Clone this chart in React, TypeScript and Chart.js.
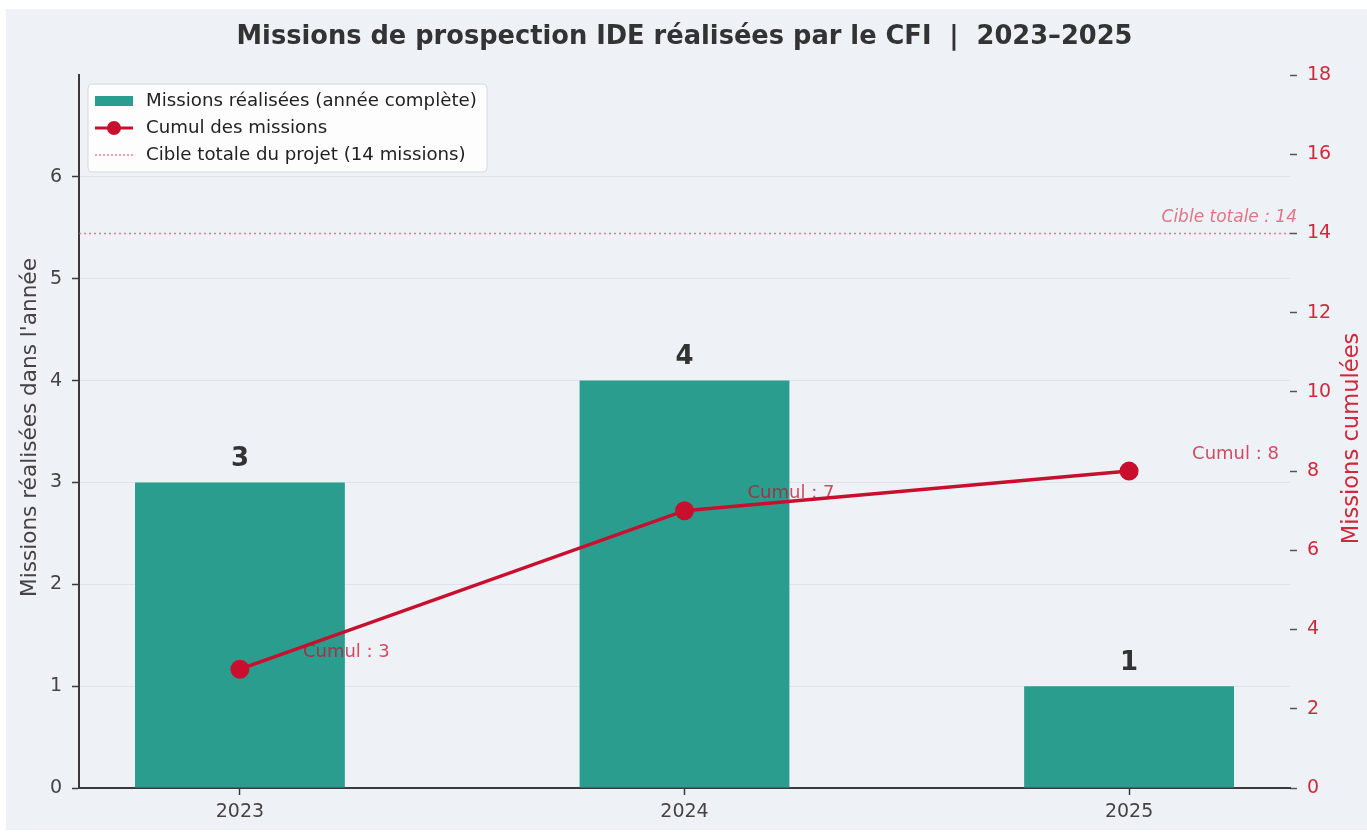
import React, { useEffect, useRef } from 'react';
import { Chart, registerables } from 'chart.js';

Chart.register(...registerables);

const categories = ['2023', '2024', '2025'];
const missionsPerYear = [3, 4, 1];
const cumulativeMissions = [3, 7, 8];
const projectTarget = 14;
const leftTickValues = [0, 1, 2, 3, 4, 5, 6];
const rightTickValues = [0, 2, 4, 6, 8, 10, 12, 14, 16, 18];

const chartTitle = 'Missions de prospection IDE réalisées par le CFI  |  2023–2025';
const leftAxisTitle = "Missions réalisées dans l'année";
const rightAxisTitle = 'Missions cumulées';
const legendLabels = [
  'Missions réalisées (année complète)',
  'Cumul des missions',
  'Cible totale du projet (14 missions)',
];

const W = 1367;
const H = 833;
const FONT = "'DejaVu Sans', sans-serif";
const BG = '#eef2f7';
const TEAL = '#2a9d8f';
const RED = '#c8102e';
const RED_TXT = '#cf2a3b';
const AXIS = '#3a3a3a';

export default function App() {
  const ref = useRef<HTMLCanvasElement>(null);

  useEffect(() => {
    document.body.style.margin = '0';
    document.body.style.background = '#ffffff';
    const canvas = ref.current!;

    const decor = {
      id: 'decor',
      beforeDraw(chart: any) {
        const ctx = chart.ctx;
        ctx.save();
        ctx.fillStyle = '#ffffff';
        ctx.fillRect(0, 0, W, H);
        ctx.fillStyle = BG;
        ctx.fillRect(6, 9, W - 6, 821);
        ctx.restore();
      },
      beforeDatasetsDraw(chart: any) {
        const ctx = chart.ctx;
        const { left, right } = chart.chartArea;
        const y = chart.scales.y1.getPixelForValue(projectTarget);
        ctx.save();
        ctx.strokeStyle = 'rgba(230,80,95,0.75)';
        ctx.lineWidth = 1.5;
        ctx.setLineDash([2, 3]);
        ctx.beginPath();
        ctx.moveTo(left, y);
        ctx.lineTo(right, y);
        ctx.stroke();
        ctx.setLineDash([]);
        ctx.font = `italic 17px ${FONT}`;
        ctx.fillStyle = 'rgba(214,50,70,0.65)';
        ctx.textAlign = 'right';
        ctx.textBaseline = 'middle';
        ctx.fillText(`Cible totale : ${projectTarget}`, right + 7, y - 16);
        ctx.restore();
      },
      afterDatasetDraw(chart: any, args: any) {
        if (args.index !== 0) return;
        const ctx = chart.ctx;
        ctx.save();
        // bar value labels
        const barMeta = chart.getDatasetMeta(0);
        ctx.font = `bold 26px ${FONT}`;
        ctx.fillStyle = '#333333';
        ctx.textAlign = 'center';
        ctx.textBaseline = 'middle';
        barMeta.data.forEach((el: any, i: number) => {
          ctx.fillText(String(missionsPerYear[i]), el.x, el.y - 23);
        });
        // cumulative labels (under the line)
        const lineMeta = chart.getDatasetMeta(1);
        ctx.font = `18px ${FONT}`;
        ctx.fillStyle = 'rgba(200,16,46,0.75)';
        ctx.textAlign = 'left';
        lineMeta.data.forEach((el: any, i: number) => {
          ctx.fillText(`Cumul : ${cumulativeMissions[i]}`, el.x + 63, el.y - 17);
        });
        ctx.restore();
      },
      afterDraw(chart: any) {
        const ctx = chart.ctx;
        const area = chart.chartArea;
        ctx.save();
        // title
        ctx.font = `bold 25.7px ${FONT}`;
        ctx.fillStyle = '#333333';
        ctx.textAlign = 'center';
        ctx.textBaseline = 'middle';
        ctx.fillText(chartTitle, (area.left + area.right) / 2, 37);
        // axis titles
        const midY = (area.top + area.bottom) / 2;
        ctx.save();
        ctx.translate(30, midY - 4);
        ctx.rotate(-Math.PI / 2);
        ctx.font = `21.6px ${FONT}`;
        ctx.fillStyle = '#444444';
        ctx.fillText(leftAxisTitle, 0, 0);
        ctx.restore();
        ctx.save();
        ctx.translate(1352, midY + 7);
        ctx.rotate(-Math.PI / 2);
        ctx.font = `22.6px ${FONT}`;
        ctx.fillStyle = RED_TXT;
        ctx.fillText(rightAxisTitle, 0, 0);
        ctx.restore();
        // legend
        const bx = 88, by = 84, bw = 399, bh = 88;
        ctx.beginPath();
        ctx.roundRect(bx, by, bw, bh, 4);
        ctx.fillStyle = 'rgba(255,255,255,0.85)';
        ctx.fill();
        ctx.strokeStyle = '#d5d8dc';
        ctx.lineWidth = 1;
        ctx.stroke();
        const rows = [101, 128, 155];
        ctx.fillStyle = TEAL;
        ctx.fillRect(95, rows[0] - 5, 38, 10);
        ctx.strokeStyle = RED;
        ctx.lineWidth = 3;
        ctx.beginPath();
        ctx.moveTo(95, rows[1]);
        ctx.lineTo(133, rows[1]);
        ctx.stroke();
        ctx.fillStyle = RED;
        ctx.beginPath();
        ctx.arc(114, rows[1], 7, 0, Math.PI * 2);
        ctx.fill();
        ctx.strokeStyle = 'rgba(232,90,100,0.75)';
        ctx.lineWidth = 1.5;
        ctx.setLineDash([2, 2]);
        ctx.beginPath();
        ctx.moveTo(95, rows[2]);
        ctx.lineTo(133, rows[2]);
        ctx.stroke();
        ctx.setLineDash([]);
        ctx.font = `18.2px ${FONT}`;
        ctx.fillStyle = '#222222';
        ctx.textAlign = 'left';
        ctx.textBaseline = 'middle';
        legendLabels.forEach((t, i) => ctx.fillText(t, 146, rows[i]));
        ctx.restore();
      },
    };

    const tickFont = { family: FONT, size: 19 };

    const chart = new Chart(canvas, {
      type: 'bar',
      data: {
        datasets: [
          {
            type: 'bar',
            label: legendLabels[0],
            data: missionsPerYear.map((v, i) => ({ x: i, y: v })),
            backgroundColor: TEAL,
            barPercentage: 0.472,
            categoryPercentage: 1,
            xAxisID: 'x',
            yAxisID: 'y',
            order: 2,
          } as any,
          {
            type: 'line',
            label: legendLabels[1],
            data: cumulativeMissions.map((v, i) => ({ x: i, y: v })),
            borderColor: RED,
            backgroundColor: RED,
            borderWidth: 3.5,
            pointRadius: 9.5,
            pointBackgroundColor: RED,
            pointBorderWidth: 0,
            xAxisID: 'x',
            yAxisID: 'y1',
            order: 1,
          } as any,
        ],
      },
      options: {
        animation: false,
        responsive: false,
        devicePixelRatio: 1,
        layout: { padding: { top: 75, left: 0, right: 0, bottom: 0 } },
        plugins: {
          legend: { display: false },
          tooltip: { enabled: false },
          title: { display: false },
        },
        scales: {
          x: {
            type: 'linear',
            offset: false,
            min: -0.362,
            max: 2.362,
            afterBuildTicks: (s: any) => {
              s.ticks = categories.map((_, i) => ({ value: i }));
            },
            afterFit: (s: any) => {
              s.height = 45;
            },
            ticks: {
              font: tickFont,
              color: '#444444',
              padding: 6,
              autoSkip: false,
              maxRotation: 0,
              callback: (v: any) => categories[v] ?? '',
            },
            grid: { offset: false, drawOnChartArea: false, tickLength: 7, tickColor: AXIS, tickWidth: 1.5 },
            border: { color: AXIS, width: 2 },
          },
          y: {
            type: 'linear',
            position: 'left',
            min: 0,
            max: 7,
            afterBuildTicks: (s: any) => {
              s.ticks = leftTickValues.map((v) => ({ value: v }));
            },
            afterFit: (s: any) => {
              s.width = 79;
            },
            ticks: { font: tickFont, color: '#444444', padding: 10 },
            grid: {
              color: (c: any) => (c.tick && c.tick.value === 0 ? 'rgba(0,0,0,0)' : 'rgba(0,0,0,0.06)'),
              lineWidth: 1,
              tickLength: 7,
              tickColor: AXIS,
              tickWidth: 1.5,
            },
            border: { color: AXIS, width: 2 },
          },
          y1: {
            type: 'linear',
            position: 'right',
            min: 0,
            max: 18,
            afterBuildTicks: (s: any) => {
              s.ticks = rightTickValues.map((v) => ({ value: v }));
            },
            afterFit: (s: any) => {
              s.width = 77;
            },
            ticks: { font: tickFont, color: RED_TXT, padding: 10 },
            grid: { drawOnChartArea: false, tickLength: 7, tickColor: '#555555', tickWidth: 1.5 },
            border: { display: false },
          },
        },
      } as any,
      plugins: [decor],
    });

    return () => chart.destroy();
  }, []);

  return <canvas ref={ref} width={W} height={H} style={{ display: 'block', width: W, height: H }} />;
}
